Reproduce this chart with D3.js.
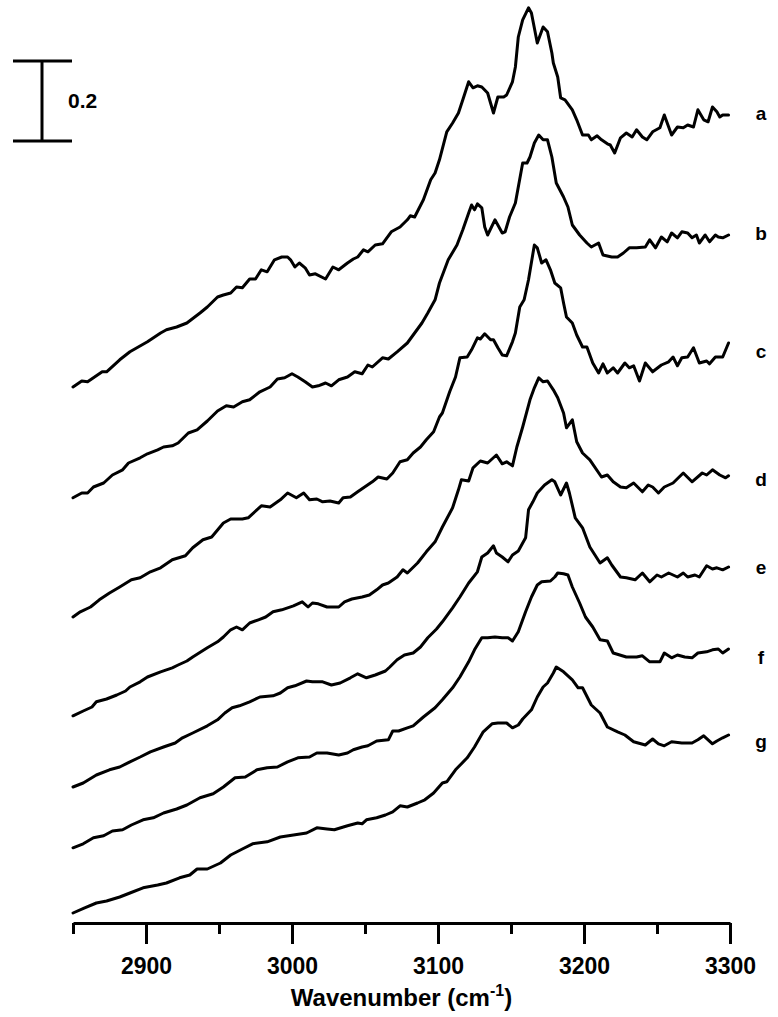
<!DOCTYPE html>
<html>
<head>
<meta charset="utf-8">
<script src="https://cdn.jsdelivr.net/npm/d3@7"></script>
<style>
  html, body { margin: 0; padding: 0; background: #fff; }
  svg { display: block; }
  text { font-family: "Liberation Sans", Arial, Helvetica, sans-serif; font-weight: bold; fill: #000; }
</style>
</head>
<body>
<svg id="chart" width="778" height="1017"></svg>
<script>
// ---------- data (wavenumber cm-1, absorbance incl. vertical offset) ----------
const traceA = [[2850,1.340],[2856,1.355],[2860,1.353],[2870,1.378],[2873,1.378],[2882,1.408],[2889,1.428],[2901,1.453],[2910,1.475],[2914,1.483],[2921,1.490],[2928,1.500],[2937,1.525],[2942,1.540],[2949,1.565],[2953,1.570],[2958,1.575],[2962,1.590],[2966,1.588],[2971,1.610],[2975,1.610],[2979,1.633],[2983,1.628],[2988,1.658],[2993,1.665],[2997,1.665],[2999,1.658],[3002,1.640],[3005,1.650],[3009,1.638],[3012,1.620],[3016,1.623],[3023,1.610],[3028,1.640],[3032,1.633],[3038,1.650],[3042,1.660],[3045,1.665],[3049,1.683],[3052,1.678],[3057,1.695],[3062,1.698],[3064,1.708],[3068,1.728],[3074,1.740],[3079,1.758],[3081,1.768],[3084,1.765],[3090,1.808],[3095,1.858],[3098,1.875],[3101,1.908],[3106,1.978],[3110,2.000],[3114,2.025],[3117,2.058],[3121,2.103],[3124,2.088],[3127,2.093],[3130,2.090],[3134,2.075],[3136,2.050],[3138,2.025],[3141,2.065],[3145,2.065],[3147,2.070],[3151,2.103],[3153,2.140],[3155,2.215],[3158,2.258],[3162,2.288],[3164,2.275],[3168,2.200],[3172,2.240],[3175,2.228],[3178,2.175],[3179,2.150],[3182,2.115],[3184,2.063],[3187,2.058],[3192,2.033],[3195,2.008],[3199,1.970],[3203,1.970],[3205,1.958],[3209,1.968],[3212,1.958],[3216,1.948],[3218,1.945],[3221,1.925],[3225,1.963],[3229,1.975],[3233,1.965],[3236,1.983],[3240,1.965],[3243,1.958],[3247,1.978],[3252,1.988],[3255,2.020],[3260,1.970],[3264,1.990],[3268,1.988],[3271,1.995],[3275,1.990],[3278,2.033],[3282,2.008],[3285,2.003],[3288,2.040],[3291,2.028],[3293,2.015],[3295,2.020],[3299,2.020]];
const traceB = [[2850,1.063],[2856,1.075],[2860,1.075],[2864,1.090],[2871,1.100],[2877,1.120],[2884,1.133],[2888,1.150],[2896,1.163],[2901,1.173],[2908,1.183],[2912,1.190],[2918,1.193],[2922,1.200],[2929,1.225],[2935,1.233],[2942,1.255],[2949,1.280],[2955,1.293],[2960,1.290],[2966,1.303],[2971,1.308],[2978,1.328],[2985,1.340],[2990,1.360],[2995,1.363],[3000,1.373],[3004,1.365],[3009,1.353],[3014,1.340],[3018,1.343],[3023,1.350],[3027,1.343],[3032,1.358],[3038,1.365],[3043,1.378],[3048,1.373],[3052,1.395],[3055,1.390],[3062,1.413],[3066,1.410],[3072,1.428],[3079,1.450],[3083,1.470],[3089,1.500],[3093,1.525],[3098,1.558],[3101,1.600],[3107,1.658],[3113,1.695],[3117,1.733],[3121,1.775],[3123,1.795],[3125,1.783],[3127,1.798],[3130,1.788],[3132,1.740],[3134,1.720],[3139,1.758],[3144,1.725],[3146,1.728],[3149,1.765],[3153,1.800],[3158,1.900],[3161,1.900],[3163,1.915],[3166,1.950],[3169,1.970],[3172,1.958],[3175,1.958],[3178,1.915],[3181,1.850],[3186,1.815],[3189,1.790],[3192,1.745],[3197,1.720],[3202,1.700],[3205,1.690],[3210,1.700],[3213,1.670],[3219,1.665],[3223,1.665],[3227,1.675],[3231,1.688],[3236,1.688],[3242,1.690],[3245,1.708],[3249,1.688],[3253,1.715],[3257,1.703],[3260,1.725],[3264,1.713],[3267,1.728],[3271,1.725],[3274,1.713],[3277,1.720],[3279,1.700],[3283,1.720],[3286,1.703],[3290,1.720],[3292,1.715],[3295,1.713],[3299,1.720]];
const traceC = [[2850,0.765],[2855,0.778],[2862,0.790],[2868,0.808],[2875,0.825],[2882,0.840],[2890,0.858],[2896,0.863],[2903,0.878],[2910,0.888],[2918,0.908],[2927,0.918],[2932,0.938],[2939,0.958],[2945,0.965],[2953,1.000],[2958,1.010],[2966,1.010],[2970,1.013],[2979,1.043],[2985,1.040],[2992,1.058],[2997,1.075],[3003,1.063],[3008,1.075],[3012,1.058],[3017,1.060],[3021,1.053],[3026,1.055],[3032,1.050],[3035,1.063],[3040,1.065],[3045,1.078],[3049,1.088],[3055,1.103],[3059,1.115],[3065,1.110],[3069,1.125],[3074,1.153],[3079,1.158],[3083,1.175],[3088,1.190],[3092,1.208],[3097,1.228],[3101,1.265],[3103,1.275],[3108,1.328],[3112,1.365],[3115,1.413],[3120,1.415],[3123,1.433],[3127,1.463],[3129,1.460],[3132,1.473],[3136,1.458],[3138,1.458],[3141,1.438],[3144,1.420],[3147,1.418],[3151,1.453],[3153,1.475],[3156,1.540],[3159,1.558],[3162,1.608],[3166,1.695],[3168,1.688],[3171,1.650],[3174,1.658],[3177,1.633],[3180,1.600],[3184,1.588],[3186,1.550],[3188,1.515],[3192,1.500],[3195,1.470],[3199,1.440],[3202,1.440],[3206,1.400],[3210,1.375],[3213,1.398],[3216,1.375],[3220,1.388],[3223,1.375],[3228,1.400],[3231,1.388],[3234,1.393],[3238,1.355],[3242,1.400],[3247,1.378],[3253,1.395],[3258,1.403],[3261,1.415],[3264,1.393],[3267,1.413],[3271,1.415],[3275,1.438],[3279,1.400],[3284,1.405],[3286,1.398],[3290,1.415],[3295,1.415],[3299,1.450]];
const traceD = [[2850,0.518],[2857,0.530],[2863,0.540],[2866,0.553],[2873,0.560],[2880,0.570],[2886,0.580],[2889,0.590],[2896,0.603],[2901,0.615],[2910,0.628],[2918,0.638],[2922,0.645],[2928,0.655],[2932,0.665],[2942,0.688],[2949,0.703],[2953,0.715],[2958,0.733],[2962,0.740],[2966,0.733],[2971,0.750],[2977,0.758],[2982,0.765],[2987,0.778],[2993,0.783],[3001,0.793],[3007,0.803],[3011,0.790],[3014,0.800],[3018,0.798],[3024,0.790],[3028,0.790],[3032,0.790],[3036,0.803],[3041,0.810],[3048,0.815],[3053,0.820],[3058,0.833],[3062,0.845],[3066,0.850],[3072,0.865],[3076,0.883],[3079,0.875],[3086,0.900],[3092,0.928],[3098,0.953],[3103,0.990],[3110,1.038],[3114,1.083],[3116,1.108],[3121,1.105],[3124,1.138],[3129,1.155],[3134,1.150],[3140,1.170],[3144,1.148],[3147,1.153],[3151,1.143],[3154,1.190],[3158,1.240],[3163,1.308],[3166,1.338],[3169,1.363],[3172,1.353],[3175,1.355],[3179,1.333],[3182,1.313],[3186,1.275],[3188,1.238],[3192,1.258],[3195,1.203],[3199,1.175],[3204,1.158],[3212,1.115],[3216,1.120],[3220,1.103],[3225,1.090],[3229,1.088],[3234,1.100],[3240,1.078],[3244,1.095],[3247,1.090],[3251,1.075],[3255,1.090],[3261,1.100],[3268,1.125],[3274,1.103],[3281,1.125],[3284,1.120],[3288,1.133],[3293,1.120],[3297,1.113],[3299,1.118]];
const traceE = [[2850,0.340],[2857,0.350],[2866,0.370],[2875,0.383],[2882,0.390],[2889,0.403],[2896,0.415],[2903,0.428],[2912,0.440],[2920,0.450],[2925,0.463],[2932,0.475],[2942,0.493],[2949,0.508],[2954,0.525],[2959,0.538],[2964,0.543],[2971,0.553],[2978,0.565],[2987,0.568],[2992,0.575],[2997,0.588],[3002,0.593],[3010,0.605],[3014,0.603],[3021,0.603],[3027,0.595],[3033,0.600],[3040,0.613],[3045,0.623],[3051,0.613],[3057,0.620],[3064,0.630],[3067,0.640],[3072,0.658],[3077,0.670],[3083,0.675],[3088,0.690],[3093,0.713],[3099,0.735],[3103,0.753],[3110,0.788],[3115,0.815],[3121,0.850],[3127,0.878],[3130,0.915],[3134,0.925],[3138,0.943],[3140,0.925],[3144,0.915],[3148,0.903],[3151,0.920],[3155,0.930],[3160,0.963],[3162,1.033],[3165,1.053],[3168,1.075],[3173,1.095],[3178,1.108],[3180,1.103],[3184,1.070],[3188,1.100],[3190,1.075],[3194,1.013],[3199,0.988],[3204,0.940],[3211,0.900],[3216,0.913],[3219,0.895],[3225,0.865],[3229,0.863],[3235,0.858],[3240,0.875],[3245,0.853],[3250,0.870],[3253,0.865],[3258,0.875],[3264,0.865],[3268,0.875],[3271,0.865],[3276,0.870],[3279,0.865],[3284,0.893],[3288,0.885],[3291,0.888],[3295,0.883],[3299,0.890]];
const traceF = [[2850,0.188],[2857,0.198],[2864,0.213],[2871,0.218],[2877,0.230],[2884,0.233],[2890,0.245],[2898,0.258],[2905,0.263],[2912,0.275],[2921,0.285],[2928,0.295],[2937,0.313],[2946,0.323],[2953,0.340],[2961,0.363],[2968,0.365],[2976,0.383],[2983,0.388],[2990,0.390],[2997,0.403],[3004,0.413],[3012,0.415],[3017,0.425],[3024,0.425],[3032,0.420],[3038,0.425],[3042,0.433],[3048,0.440],[3052,0.443],[3058,0.455],[3066,0.458],[3069,0.480],[3073,0.480],[3079,0.488],[3083,0.493],[3090,0.515],[3098,0.538],[3103,0.558],[3110,0.588],[3115,0.615],[3121,0.653],[3125,0.683],[3130,0.713],[3134,0.713],[3139,0.715],[3144,0.713],[3148,0.713],[3151,0.705],[3155,0.728],[3160,0.778],[3164,0.815],[3168,0.845],[3171,0.853],[3177,0.855],[3180,0.865],[3182,0.875],[3186,0.873],[3189,0.870],[3192,0.840],[3197,0.800],[3201,0.765],[3206,0.740],[3211,0.708],[3216,0.705],[3220,0.675],[3229,0.665],[3236,0.665],[3240,0.668],[3245,0.653],[3252,0.653],[3255,0.675],[3260,0.663],[3264,0.670],[3269,0.665],[3274,0.663],[3278,0.675],[3284,0.678],[3288,0.683],[3292,0.685],[3295,0.675],[3299,0.685]];
const traceG = [[2850,0.025],[2858,0.038],[2866,0.050],[2873,0.055],[2882,0.065],[2889,0.075],[2898,0.088],[2908,0.095],[2914,0.100],[2923,0.113],[2930,0.120],[2935,0.135],[2942,0.135],[2951,0.150],[2958,0.170],[2966,0.185],[2973,0.198],[2983,0.203],[2992,0.215],[3001,0.220],[3010,0.225],[3017,0.238],[3024,0.235],[3029,0.233],[3038,0.243],[3045,0.250],[3048,0.248],[3051,0.258],[3058,0.263],[3064,0.270],[3069,0.278],[3074,0.293],[3079,0.290],[3086,0.300],[3091,0.308],[3097,0.325],[3103,0.350],[3106,0.353],[3112,0.383],[3120,0.413],[3125,0.440],[3131,0.478],[3137,0.498],[3141,0.500],[3147,0.500],[3151,0.488],[3155,0.495],[3158,0.510],[3164,0.533],[3168,0.565],[3172,0.590],[3175,0.600],[3179,0.625],[3181,0.640],[3186,0.628],[3192,0.608],[3196,0.588],[3199,0.588],[3205,0.545],[3211,0.525],[3216,0.490],[3223,0.478],[3228,0.470],[3234,0.453],[3242,0.445],[3247,0.460],[3251,0.448],[3255,0.443],[3260,0.453],[3267,0.450],[3274,0.450],[3278,0.458],[3282,0.468],[3288,0.448],[3291,0.455],[3295,0.463],[3299,0.470]];

const seriesNames = ["a", "b", "c", "d", "e", "f", "g"];
const labelValues = [2.025, 1.725, 1.428, 1.110, 0.888, 0.665, 0.455];
const majorTicks = [2900, 3000, 3100, 3200, 3300];
const minorTicks = [2850, 2950, 3050, 3150, 3250];
const xTitle = "Wavenumber (cm";
const xTitleSup = "-1";
const scaleBarLabel = "0.2";
const scaleBarSize = 0.2;
const scaleBarBase = 1.955;

const allSeries = [traceA, traceB, traceC, traceD, traceE, traceF, traceG];

// ---------- scales ----------
const svg = d3.select("#chart");
const x = d3.scaleLinear().domain([2850, 3300]).range([73, 730]);
const y = d3.scaleLinear().domain([0, 2.3]).range([923, 3]);

const line = d3.line().x(d => x(d[0])).y(d => y(d[1])).curve(d3.curveLinear);

svg.append("g").selectAll("path")
  .data(allSeries)
  .join("path")
  .attr("d", line)
  .attr("fill", "none")
  .attr("stroke", "#000")
  .attr("stroke-width", 3)
  .attr("stroke-linejoin", "round")
  .attr("stroke-linecap", "round");

// series labels
svg.append("g").selectAll("text")
  .data(seriesNames)
  .join("text")
  .attr("x", 761)
  .attr("y", (d, i) => y(labelValues[i]))
  .attr("dy", "0.35em")
  .attr("text-anchor", "middle")
  .style("font-size", "19px")
  .text(d => d);

// ---------- x axis ----------
const axisY = y(0);
const gMajor = svg.append("g").attr("transform", `translate(0,${axisY})`)
  .call(d3.axisBottom(x).tickValues(majorTicks).tickSize(21).tickSizeOuter(0).tickFormat(d3.format("d")));
const gMinor = svg.append("g").attr("transform", `translate(0,${axisY})`)
  .call(d3.axisBottom(x).tickValues(minorTicks).tickSize(11).tickSizeOuter(0).tickFormat(""));
gMinor.select(".domain").remove();
[gMajor, gMinor].forEach(g => {
  g.selectAll(".domain").attr("stroke", "#000").attr("stroke-width", 3);
  g.selectAll(".tick line").attr("stroke", "#000").attr("stroke-width", 3);
});
gMajor.selectAll(".tick text")
  .attr("y", 51).attr("dy", 0)
  .style("font-size", "23px")
  .style("font-family", "'Liberation Sans', Arial, sans-serif")
  .style("font-weight", "bold")
  .attr("fill", "#000");

// axis title
const title = svg.append("text")
  .attr("x", (x.range()[0] + x.range()[1]) / 2)
  .attr("y", 1006)
  .attr("text-anchor", "middle")
  .style("font-size", "24px");
title.append("tspan").text(xTitle);
title.append("tspan").text(xTitleSup).attr("dy", -10).style("font-size", "16px");
title.append("tspan").text(")").attr("dy", 10);

// ---------- scale bar ----------
const sbX = 42;
const sb = svg.append("g").attr("stroke", "#000").attr("stroke-width", 3);
const yTop = y(scaleBarBase + scaleBarSize), yBot = y(scaleBarBase);
sb.append("line").attr("x1", sbX).attr("x2", sbX).attr("y1", yTop).attr("y2", yBot);
sb.append("line").attr("x1", 13).attr("x2", 72).attr("y1", yTop).attr("y2", yTop);
sb.append("line").attr("x1", 13).attr("x2", 72).attr("y1", yBot).attr("y2", yBot);
svg.append("text")
  .attr("x", 68)
  .attr("y", (yTop + yBot) / 2)
  .attr("dy", "0.35em")
  .style("font-size", "21px")
  .text(scaleBarLabel);
</script>
</body>
</html>
